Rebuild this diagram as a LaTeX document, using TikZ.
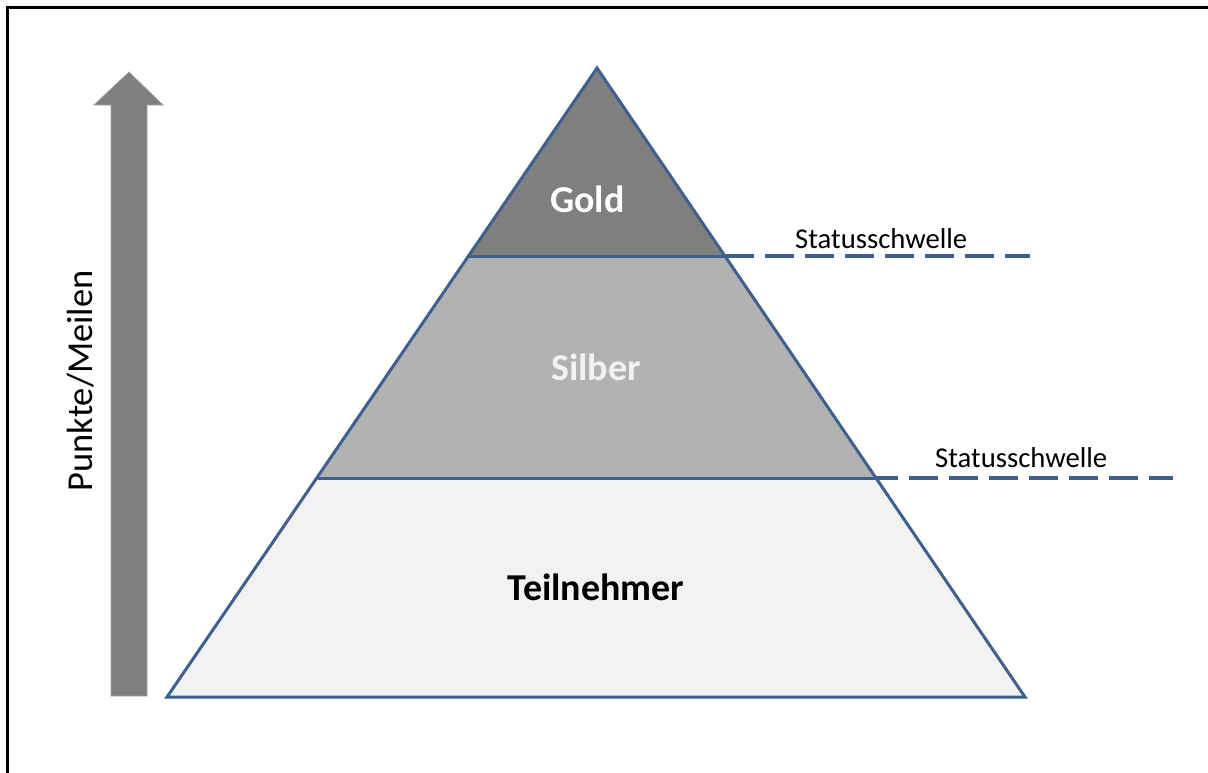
\documentclass[tikz,border=0pt]{standalone}
\usepackage{fontspec}
\setmainfont{Carlito}
\definecolor{edgeblue}{RGB}{62,96,140}
\definecolor{goldfill}{RGB}{127,127,127}
\definecolor{silverfill}{RGB}{178,178,178}
\definecolor{basefill}{RGB}{242,242,242}
\definecolor{arrowfill}{RGB}{127,127,127}
\definecolor{arrowedge}{RGB}{160,160,160}
\tikzset{
  layeredge/.style={draw=edgeblue, line width=3pt},
  threshold/.style={draw=edgeblue, line width=3.4pt, dash pattern=on 29pt off 11pt},
  levellabel/.style={font=\bfseries\fontsize{38}{44}\selectfont, anchor=base, inner sep=0pt},
  statuslabel/.style={font=\fontsize{28.7}{33}\selectfont, anchor=base west, inner sep=0pt},
}
\begin{document}
\begin{tikzpicture}[x=1pt,y=-1pt]
\useasboundingbox (0,0) rectangle (1208,772);
% frame (only top and left visible)
\draw[black, line width=2.6pt] (7.5,790) -- (7.5,7.5) -- (1230,7.5);
% coordinates
\coordinate (apex) at (597,68);
\coordinate (bl) at (167,697);
\coordinate (br) at (1025,697);
\coordinate (gl) at (468.5,256);
\coordinate (gr) at (725,256);
\coordinate (sl) at (317.7,478);
\coordinate (sr) at (876,478);
% layers
\fill[basefill] (sl) -- (sr) -- (br) -- (bl) -- cycle;
\fill[silverfill] (gl) -- (gr) -- (sr) -- (sl) -- cycle;
\fill[goldfill] (apex) -- (gr) -- (gl) -- cycle;
% thresholds
\coordinate (t1c) at (1030,256);
\draw[threshold, dash phase=0pt] (gr) -- (t1c);
\coordinate (t2c) at (1173,478);
\draw[threshold, dash phase=7pt] (sr) -- (t2c);
% layer edges
\draw[layeredge] (gl) -- (gr);
\draw[layeredge] (sl) -- (sr);
\draw[layeredge] (apex) -- (br) -- (bl) -- cycle;
% arrow
\draw[fill=arrowfill, draw=arrowedge, line width=0.8pt]
  (111,696) -- (111,105) -- (94,105) -- (129,72) -- (163,105) -- (147,105) -- (147,696) -- cycle;
\node[font=\fontsize{36.5}{42}\selectfont, rotate=90, anchor=base, inner sep=0pt] (axis) at (92,381) {Punkte/Meilen};
% threshold labels
\node[statuslabel] (s1) at (795,248) {Statusschwelle};
\node[statuslabel] (s2) at (935,467) {Statusschwelle};
% level labels
\node[levellabel, text=white] (gold) at (587.5,212) {Gold};
\node[levellabel, text=basefill] (silber) at (596,380) {Silber};
\node[levellabel, text=black] (teil) at (596,600) {Teilnehmer};
\end{tikzpicture}
\end{document}
